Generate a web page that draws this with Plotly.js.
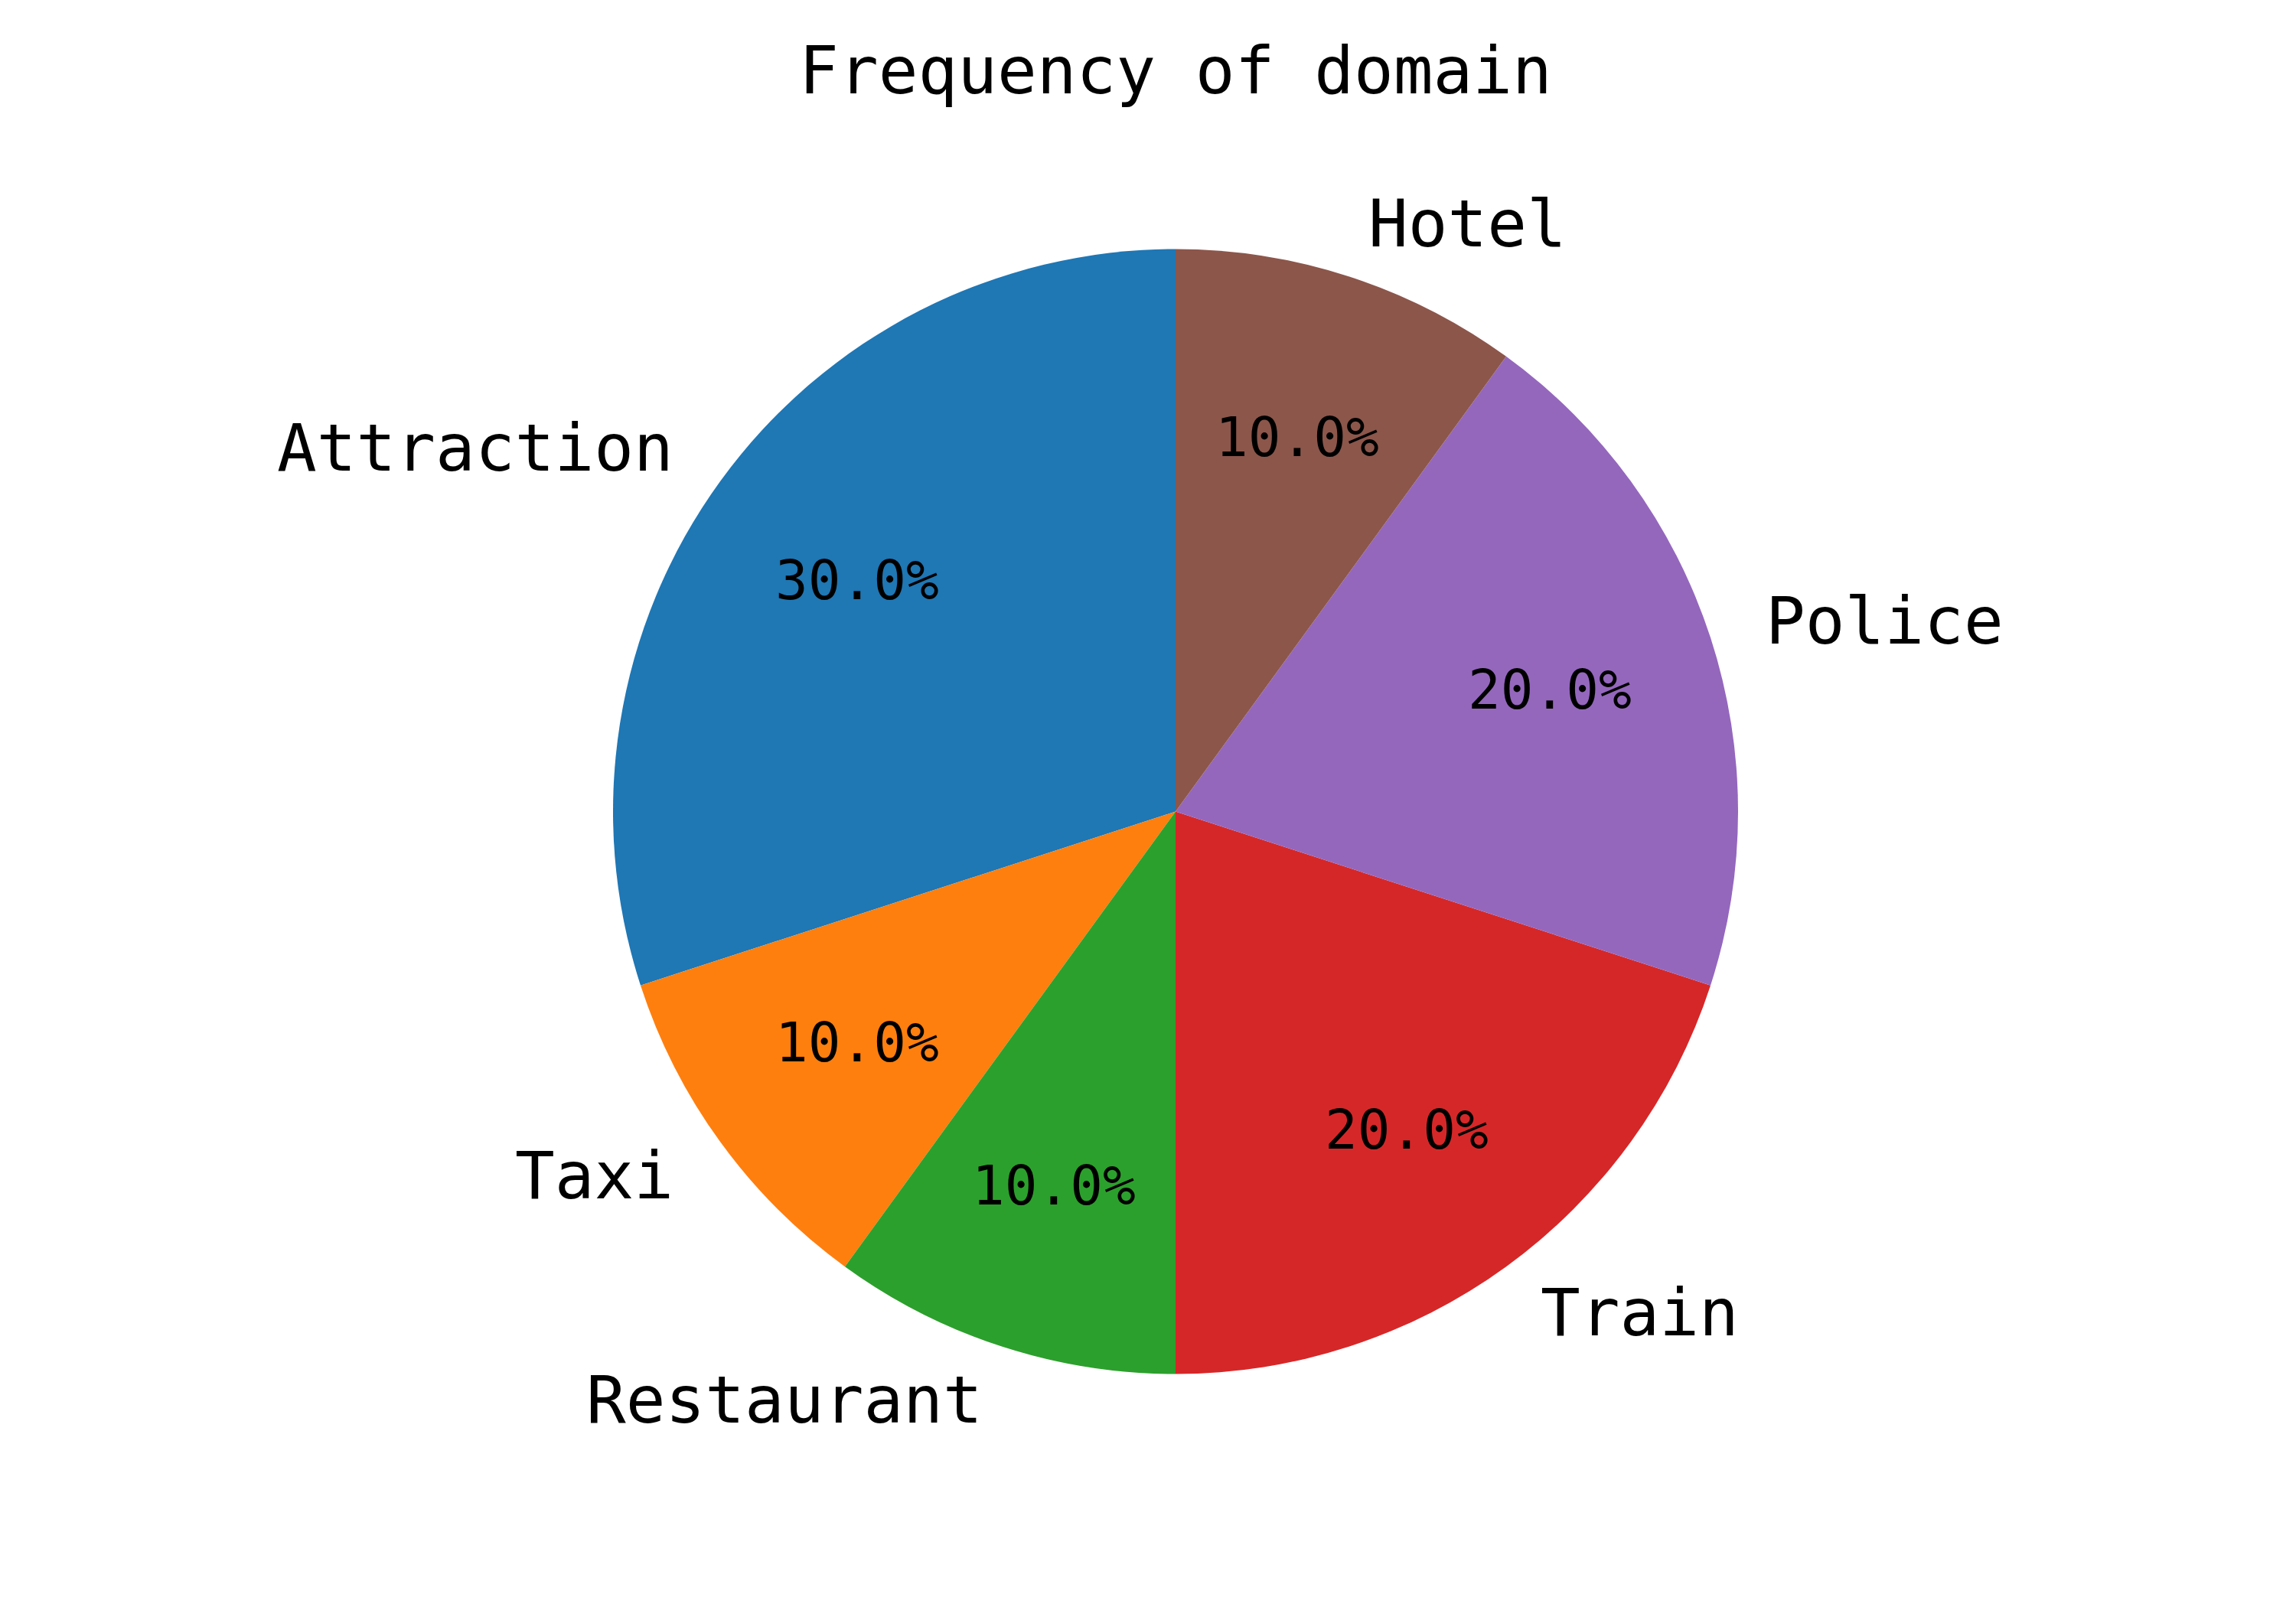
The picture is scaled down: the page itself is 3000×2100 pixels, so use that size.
<!DOCTYPE html>
<html>
<head>
<meta charset="utf-8">
<script src="https://cdn.plot.ly/plotly-3.0.1.min.js"></script>
<style>html,body{margin:0;padding:0;background:#fff;}#chart{width:3000px;height:2100px;}</style>
</head>
<body>
<div id="chart"></div>
<script>
const labels = ["Attraction", "Taxi", "Restaurant", "Train", "Police", "Hotel"];
const values = [3, 1, 1, 2, 2, 1];
const colors = ["#1f77b4", "#ff7f0e", "#2ca02c", "#d62728", "#9467bd", "#8c564b"];
const titleText = "Frequency of domain";

const W = 3000, H = 2100;
const domX = [0.267, 0.757];
const domY = [0.145, 0.845];
const FONT = "DejaVu Sans Mono, Liberation Mono, monospace";

const total = values.reduce((a, b) => a + b, 0);
const cxPx = W * (domX[0] + domX[1]) / 2;
const cyPx = H * (domY[0] + domY[1]) / 2;
const rPx = Math.min(W * (domX[1] - domX[0]), H * (domY[1] - domY[0])) / 2;

const annotations = [];
let cum = 0;
values.forEach((v, i) => {
  const mid = (90 + 360 * (cum + v / 2) / total) * Math.PI / 180;
  cum += v;
  const c = Math.cos(mid), s = Math.sin(mid);
  // outer label (labeldistance 1.1)
  annotations.push({
    xref: "paper", yref: "paper",
    x: (cxPx + 1.1 * rPx * c) / W,
    y: (cyPx + 1.1 * rPx * s) / H,
    text: labels[i], showarrow: false,
    xanchor: c < 0 ? "right" : "left", yanchor: "middle",
    font: {family: FONT, size: 86, color: "#000"}
  });
  // percent label (pctdistance 0.7)
  annotations.push({
    xref: "paper", yref: "paper",
    x: (cxPx + 0.7 * rPx * c) / W,
    y: (cyPx + 0.7 * rPx * s) / H,
    text: (100 * v / total).toFixed(1) + "%", showarrow: false,
    xanchor: "center", yanchor: "middle",
    font: {family: FONT, size: 71, color: "#000"}
  });
});

const trace = {
  type: "pie",
  labels: labels,
  values: values,
  sort: false,
  direction: "counterclockwise",
  // Plotly's counterclockwise pies end the first slice at `rotation`; shift so it starts at 12 o'clock
  rotation: -360 * values[0] / total,
  textinfo: "none",
  hoverinfo: "none",
  marker: {colors: colors, line: {width: 0}},
  domain: {x: domX, y: domY},
  showlegend: false
};

const layout = {
  width: W, height: H,
  margin: {l: 0, r: 0, t: 0, b: 0},
  paper_bgcolor: "#fff",
  plot_bgcolor: "#fff",
  showlegend: false,
  title: {
    text: titleText,
    x: 0.512, xanchor: "center",
    y: 1 - 92 / H, yanchor: "middle",
    font: {family: FONT, size: 86, color: "#000"}
  },
  annotations: annotations
};

Plotly.newPlot("chart", [trace], layout, {staticPlot: true});
</script>
</body>
</html>
